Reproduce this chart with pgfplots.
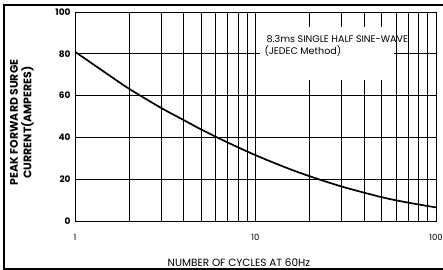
\documentclass[border=0pt]{standalone}
\usepackage{pgfplots}
\pgfplotsset{compat=1.18}
\usepackage{fontspec}
\setmainfont{Poppins}
\begin{document}
\begin{tikzpicture}
\begin{axis}[
  at={(0,0)}, anchor=south west,
  scale only axis, width=361bp, height=209bp,
  xmode=log, xmin=1, xmax=100, ymin=0, ymax=100,
  xtick={1,10,100}, xticklabels={1,10,100},
  ytick={0,20,40,60,80,100},
  grid=both,
  major grid style={black, line width=0.8bp},
  minor grid style={black, line width=0.8bp},
  axis line style={black, line width=0.9bp},
  tick style={draw=none},
  /pgf/number format/assume math mode=true,
  xticklabel style={font=\fontsize{8.5}{9}\selectfont, yshift=-10bp},
  yticklabel style={font=\fontsize{9}{10}\selectfont\bfseries, xshift=-1bp},
  xlabel={NUMBER OF CYCLES AT 60Hz},
  xlabel style={font=\fontsize{10.5}{12}\selectfont, at={(axis description cs:0.454,-0.199)}, anchor=center},
  ylabel={PEAK FORWARD SURGE\\CURRENT(AMPERES)},
  ylabel style={font=\fontsize{11}{13.5}\selectfont\bfseries, align=center, at={(axis description cs:-0.147,0.472)}, anchor=center, rotate=0},
  clip=false,
]
\addplot[black, line width=1.7bp, smooth, tension=0.5] coordinates {
  (1,81) (1.5,70.5) (2,63.2) (3,54.1) (4,48.3) (5,43.8) (7,37.6) (10,31.5)
  (15,25.3) (20,21.4) (30,16.5) (50,11.4) (70,8.8) (100,6.5)
};
\node[fill=white, inner sep=0pt, minimum width=134bp, minimum height=53bp, anchor=north west] at (axis cs:10.6,92.8) {};
\node[anchor=base west, inner sep=0pt, font=\fontsize{9.6}{10}\selectfont] at (axis cs:11.5,85.3) {8.3ms SINGLE HALF SINE-WAVE};
\node[anchor=base west, inner sep=0pt, font=\fontsize{9.6}{10}\selectfont] at (axis cs:11.2,79.9) {(JEDEC Method)};
\end{axis}
\draw[line width=2bp] (368bp,216bp) -- (-71bp,216bp) -- (-71bp,-48bp) -- (368bp,-48bp);
\pgfresetboundingbox
\path[use as bounding box] (-75bp,-49bp) rectangle (368bp,221bp);
\end{tikzpicture}
\end{document}
